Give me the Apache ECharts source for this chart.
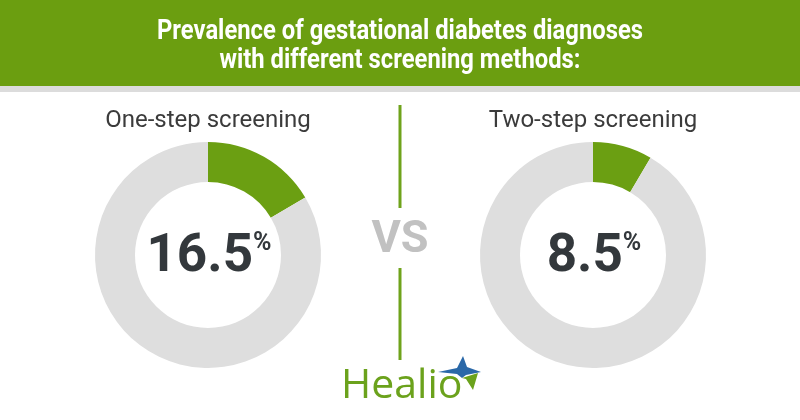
<!DOCTYPE html>
<html>
<head>
<meta charset="utf-8">
<script src="https://cdn.jsdelivr.net/npm/echarts@6/dist/echarts.min.js"></script>
<style>
html,body{margin:0;padding:0;background:#fff;}
#chart{width:800px;height:420px;}
</style>
</head>
<body>
<div id="chart"></div>
<script>
const headerLines = ['Prevalence of gestational diabetes diagnoses', 'with different screening methods:'];
const methods = ['One-step screening', 'Two-step screening'];
const prevalence = [16.5, 8.5];
const vsLabel = 'VS';
const brand = 'Healio';

const GREEN = '#6b9f12';
const RING_GRAY = '#dedede';
const DARK = '#33383c';
const centersX = [208, 593];
const centerY = 255;

const chart = echarts.init(document.getElementById('chart'), null, {renderer: 'canvas'});

const series = methods.map((m, i) => ({
  type: 'pie',
  name: m,
  center: [centersX[i], centerY],
  radius: [73, 113],
  startAngle: 90,
  clockwise: true,
  silent: true,
  label: {show: false},
  labelLine: {show: false},
  emphasis: {disabled: true},
  data: [
    {name: 'Diagnosed', value: prevalence[i], itemStyle: {color: GREEN}},
    {name: 'Not diagnosed', value: +(100 - prevalence[i]).toFixed(1), itemStyle: {color: RING_GRAY}}
  ]
}));

const headerFont = 'bold 28px Roboto, sans-serif';
const graphics = [
  {type: 'rect', shape: {x: 0, y: 0, width: 800, height: 86}, style: {fill: '#6b9e10'}, z: 0},
  {type: 'rect', shape: {x: 0, y: 86, width: 800, height: 6}, style: {fill: '#dcdcdc'}, z: 0},
  {type: 'text', x: 400, y: 32, scaleX: 0.85, originX: 0, style: {text: headerLines[0], fill: '#ffffff', font: headerFont, textAlign: 'center', textVerticalAlign: 'middle'}, z: 2},
  {type: 'text', x: 400, y: 61, scaleX: 0.85, originX: 0, style: {text: headerLines[1], fill: '#ffffff', font: headerFont, textAlign: 'center', textVerticalAlign: 'middle'}, z: 2},
  {type: 'line', shape: {x1: 400, y1: 105, x2: 400, y2: 208}, style: {stroke: '#6fa31b', lineWidth: 3}},
  {type: 'line', shape: {x1: 400, y1: 268, x2: 400, y2: 360}, style: {stroke: '#6fa31b', lineWidth: 3}},
  {type: 'text', x: 400, y: 241, style: {text: vsLabel, fill: '#c1c1c1', font: 'bold 45px Roboto, sans-serif', textAlign: 'center', textVerticalAlign: 'middle'}},
  {type: 'text', x: 341, y: 386, style: {text: brand, fill: '#6ba21c', font: '41px "Open Sans", sans-serif', textAlign: 'left', textVerticalAlign: 'middle'}},
  {type: 'polygon', shape: {points: [[438,372],[457,368],[463,356],[467,367],[481,372],[466,375],[462,378],[457,374]]}, style: {fill: '#2a68a8'}},
  {type: 'polygon', shape: {points: [[462,378],[478,373],[473,390],[466,379]]}, style: {fill: '#6ba21c'}}
];

methods.forEach((m, i) => {
  graphics.push({type: 'text', x: centersX[i], y: 121, style: {text: m, fill: '#3b3b3b', font: '24px Roboto, sans-serif', textAlign: 'center', textVerticalAlign: 'middle'}});
  graphics.push({type: 'text', x: centersX[i] + 1, y: 258, style: {
    text: '{n|' + prevalence[i] + '}{p|%}',
    textAlign: 'center', textVerticalAlign: 'middle',
    rich: {
      n: {fontSize: 53, fontWeight: 'bold', fontFamily: 'Roboto', fill: DARK, lineHeight: 54, verticalAlign: 'middle'},
      p: {fontSize: 25, fontWeight: 'bold', fontFamily: 'Roboto', fill: DARK, lineHeight: 54, verticalAlign: 'top', padding: [0,0,22,0]}
    }
  }, z: 5});
});

chart.setOption({
  backgroundColor: '#ffffff',
  animation: false,
  series: series,
  graphic: graphics
});
</script>
</body>
</html>
